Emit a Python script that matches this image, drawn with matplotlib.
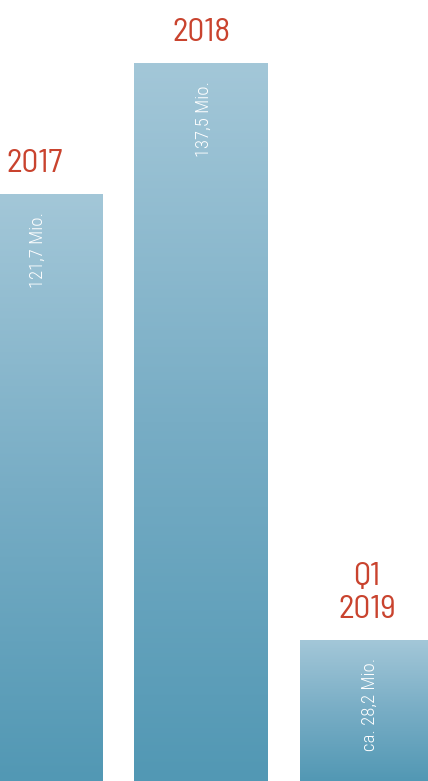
import matplotlib
matplotlib.use("Agg")
import matplotlib.pyplot as plt
import numpy as np
from matplotlib.colors import LinearSegmentedColormap

# Data
periods = ["2017", "2018", "Q1\n2019"]
value_labels = ["121,7 Mio.", "137,5 Mio.", "ca. 28,2 Mio."]
# drawn bar heights (the picture is not strictly proportional to the labels)
bar_heights = [112.4, 137.5, 26.9]

RED = "#C9432E"
TITLE_FONT = ["Barlow Semi Condensed", "Roboto Condensed", "DejaVu Sans"]
LABEL_FONT = ["Roboto Condensed", "DejaVu Sans"]

plt.rcParams["font.family"] = LABEL_FONT

fig = plt.figure(figsize=(4.28, 7.81), dpi=100)
ax = fig.add_axes([0, 0, 1, 1])
ax.set_axis_off()

x = np.arange(len(periods))
width = 0.807

# light blue at the top of each bar fading to teal at the bottom
cmap = LinearSegmentedColormap.from_list("bar", ["#5298B4", "#78ADC5", "#A3C7D8"])
grad = np.linspace(0, 1, 256).reshape(-1, 1)

for xi, h, period, label in zip(x, bar_heights, periods, value_labels):
    ax.imshow(grad, cmap=cmap, origin="lower", aspect="auto",
              extent=(xi - width / 2, xi + width / 2, 0, h), zorder=1)
    ax.annotate(period, (xi, h), xytext=(0, 16), textcoords="offset pixels",
                ha="center", va="bottom", color=RED, fontsize=24,
                family=TITLE_FONT, linespacing=1.1)
    ax.annotate(label, (xi + 0.015, h), xytext=(0, -17), textcoords="offset pixels",
                ha="center", va="top", rotation=90, color="white",
                fontsize=13.5, fontweight="light")

ax.set_xlim(-0.211, 2.367)
ax.set_ylim(0, 149.77)

fig.savefig("out.png", dpi=100)
